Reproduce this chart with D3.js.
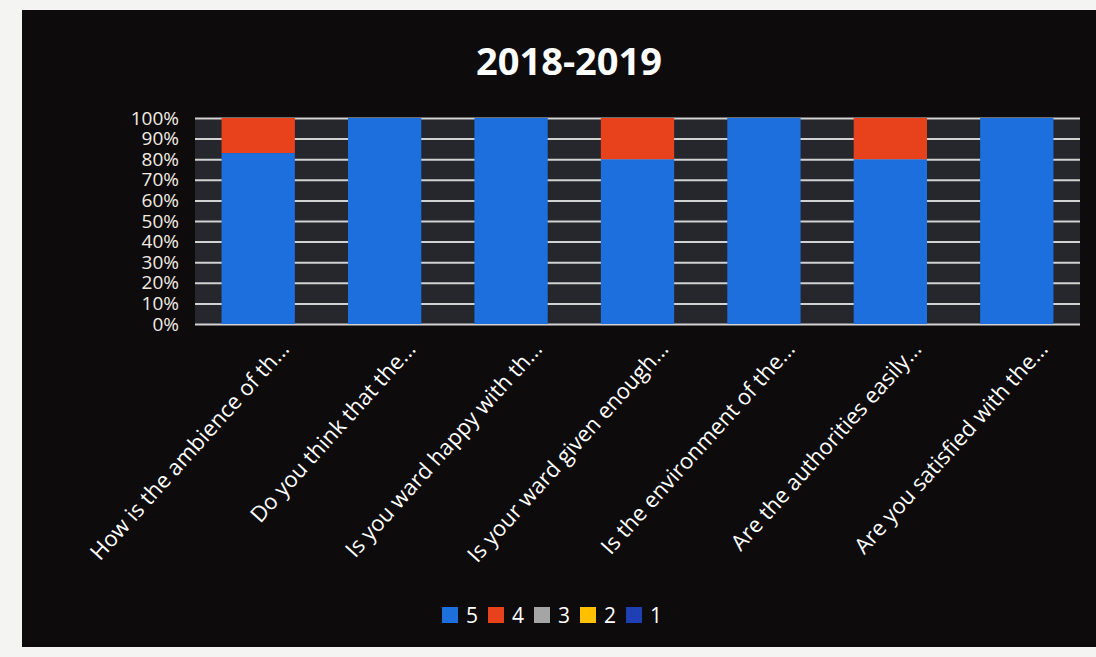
<!DOCTYPE html>
<html>
<head>
<meta charset="utf-8">
<script src="https://cdn.jsdelivr.net/npm/d3@7"></script>
<style>
  body { margin: 0; background: #f4f4f2; }
  svg { display: block; }
</style>
</head>
<body>
<div id="chart"></div>
<script>
const categories = [
  "How is the ambience of th...",
  "Do you think that the...",
  "Is you ward happy with th...",
  "Is your ward given enough...",
  "Is the environment of the...",
  "Are the authorities easily...",
  "Are you satisfied with the..."
]
// percentage of answers per rating, one array per series
const series5 = [83, 100, 100, 80, 100, 80, 100]
const series4 = [17, 0, 0, 20, 0, 20, 0]
const series3 = [0, 0, 0, 0, 0, 0, 0]
const series2 = [0, 0, 0, 0, 0, 0, 0]
const series1 = [0, 0, 0, 0, 0, 0, 0]
const seriesNames = ["5", "4", "3", "2", "1"]
const yTicks = [0, 10, 20, 30, 40, 50, 60, 70, 80, 90, 100]

const COLORS = ["#1c6fdc", "#e8421c", "#a5a5a5", "#ffc000", "#1f3fb4"]
const W = 1096, H = 657
const MARGIN = { TOP:118, BOTTOM:333, LEFT:195, RIGHT:16 }
const WIDTH = W - MARGIN.LEFT - MARGIN.RIGHT
const HEIGHT = H - MARGIN.TOP - MARGIN.BOTTOM
const FONT = "'Open Sans', 'DejaVu Sans', sans-serif"

const svg = d3.select("#chart").append("svg")
    .attr("width", W)
    .attr("height", H)

// black chart panel
svg.append("rect")
    .attr("x", 22).attr("y", 10)
    .attr("width", W - 22).attr("height", 637)
    .attr("fill", "#0d0b0b")

svg.append("text")
    .attr("x", 569)
    .attr("y", 75)
    .attr("text-anchor", "middle")
    .attr("font-family", FONT)
    .attr("font-weight", "bold")
    .attr("font-size", 38)
    .attr("fill", "#ffffff")
    .text("2018-2019")

const g = svg.append("g")
    .attr("transform", `translate(${MARGIN.LEFT},${MARGIN.TOP})`)

const x = d3.scaleBand()
    .domain(categories)
    .range([0, WIDTH])
    .paddingInner(0.42)
    .paddingOuter(0.21)

const y = d3.scaleLinear()
    .domain([0, 100])
    .range([HEIGHT, 0])

// plot background
g.append("rect")
    .attr("width", WIDTH)
    .attr("height", HEIGHT)
    .attr("fill", "#26272d")

// gridlines
g.append("g")
    .call(d3.axisLeft(y).tickValues(yTicks).tickSize(-WIDTH).tickFormat(""))
    .call(a => a.select(".domain").remove())
    .call(a => a.selectAll("line").attr("stroke", "#d2d2d2").attr("stroke-width", 2))

// y axis labels
g.append("g")
    .call(d3.axisLeft(y).tickValues(yTicks).tickSize(0).tickPadding(16).tickFormat(d => d + "%"))
    .call(a => a.select(".domain").remove())
    .call(a => a.selectAll("text")
        .attr("font-family", FONT)
        .attr("font-size", 19)
        .attr("fill", "#f1ece2"))

const table = categories.map((c, i) => ({
  cat: c, "5": series5[i], "4": series4[i], "3": series3[i], "2": series2[i], "1": series1[i]
}))
const stacked = d3.stack().keys(seriesNames)(table)

g.selectAll("g.layer")
    .data(stacked)
    .enter().append("g")
        .attr("class", "layer")
        .attr("fill", (d, i) => COLORS[i])
    .selectAll("rect")
    .data(d => d)
    .enter().append("rect")
        .attr("x", d => x(d.data.cat))
        .attr("y", d => y(d[1]))
        .attr("width", x.bandwidth())
        .attr("height", d => y(d[0]) - y(d[1]))

// x axis labels
g.append("g")
    .attr("transform", `translate(0,${HEIGHT})`)
    .call(d3.axisBottom(x).tickSize(0).tickFormat(d => d))
    .call(a => a.select(".domain").remove())
    .call(a => a.selectAll("text")
        .attr("font-family", FONT)
        .attr("font-size", 22)
        .attr("fill", "#ffffff")
        .attr("text-anchor", "end")
        .attr("dy", 0)
        .attr("transform", "translate(30,24) rotate(-48)"))

// legend
const legend = svg.append("g")
    .attr("transform", "translate(442,607)")
const items = legend.selectAll("g")
    .data(seriesNames)
    .enter().append("g")
        .attr("transform", (d, i) => `translate(${i * 46},0)`)
items.append("rect")
    .attr("width", 16).attr("height", 16)
    .attr("fill", (d, i) => COLORS[i])
items.append("text")
    .attr("x", 24).attr("y", 16)
    .attr("font-family", FONT)
    .attr("font-size", 21)
    .attr("fill", "#ffffff")
    .text(d => d)
</script>
</body>
</html>
